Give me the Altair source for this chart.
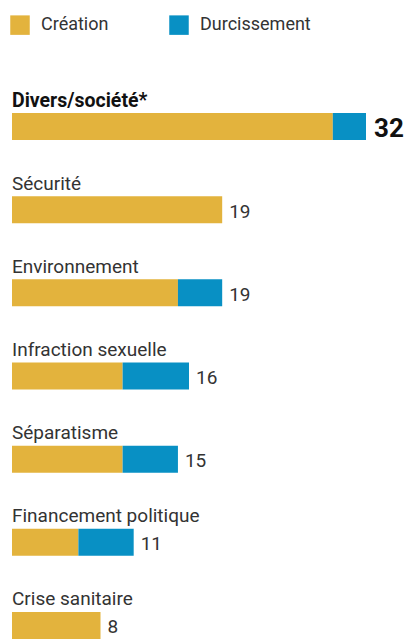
import altair as alt
import pandas as pd

categories = ["Divers/société*", "Sécurité", "Environnement", "Infraction sexuelle",
              "Séparatisme", "Financement politique", "Crise sanitaire"]
creation = [29, 19, 15, 10, 10, 6, 8]
durcissement = [3, 0, 4, 6, 5, 5, 0]
totals = [32, 19, 19, 16, 15, 11, 8]
series = ["Création", "Durcissement"]
colors = ["#e3b33d", "#0890c4"]

rows = []
for i, c in enumerate(categories):
    rows.append({"cat": c, "i": i, "type": series[0], "order": 0, "value": creation[i]})
    rows.append({"cat": c, "i": i, "type": series[1], "order": 1, "value": durcissement[i]})
bars_df = pd.DataFrame(rows)
lab_df = pd.DataFrame({"cat": categories, "i": list(range(len(categories))), "total": totals})

FONT = "Roboto"
yscale = alt.Scale(domain=categories, range=[0, 582], paddingInner=0, paddingOuter=0)
xscale = alt.Scale(domain=[0, 32], range=[0, 354], nice=False, zero=True)

bars = alt.Chart(bars_df).mark_bar(size=27).encode(
    y=alt.Y("cat:N", scale=yscale, axis=None, sort=categories),
    x=alt.X("value:Q", stack="zero", scale=xscale, axis=None),
    color=alt.Color("type:N", scale=alt.Scale(domain=series, range=colors),
                    legend=alt.Legend(title=None, orient="none", direction="horizontal",
                                      legendX=-2, legendY=-70, symbolType="square",
                                      symbolSize=380, symbolStrokeWidth=0,
                                      labelFont=FONT, labelFontSize=18, labelColor="#333",
                                      labelOffset=11, columnPadding=60, padding=0)),
    order=alt.Order("order:Q"),
)

base = alt.Chart(lab_df).encode(
    y=alt.Y("cat:N", scale=yscale, axis=None, sort=categories),
)

cat_bold = base.transform_filter("datum.i == 0").mark_text(
    align="left", baseline="alphabetic", dy=-20, font=FONT, fontSize=19.5,
    fontWeight="bold", color="#111"
).encode(x=alt.datum(0), text="cat:N")

cat_reg = base.transform_filter("datum.i > 0").mark_text(
    align="left", baseline="alphabetic", dy=-20, font=FONT, fontSize=19, color="#333"
).encode(x=alt.datum(0), text="cat:N")

tot_bold = base.transform_filter("datum.i == 0").mark_text(
    align="left", baseline="alphabetic", dx=8, dy=10, font=FONT, fontSize=26,
    fontWeight="bold", color="#111"
).encode(x=alt.X("total:Q", scale=xscale), text="total:Q")

tot_reg = base.transform_filter("datum.i > 0").mark_text(
    align="left", baseline="alphabetic", dx=7, dy=8, font=FONT, fontSize=19, color="#333"
).encode(x=alt.X("total:Q", scale=xscale), text="total:Q")

chart = alt.layer(bars, cat_bold, cat_reg, tot_bold, tot_reg).properties(
    width=354, height=554,
    autosize=alt.AutoSizeParams(type="none"),
    padding={"left": 12, "top": 85, "right": 40, "bottom": 0},
    background="white",
).configure_view(stroke=None)

chart.save("out.html", embed_options={"renderer": "svg", "actions": False})
